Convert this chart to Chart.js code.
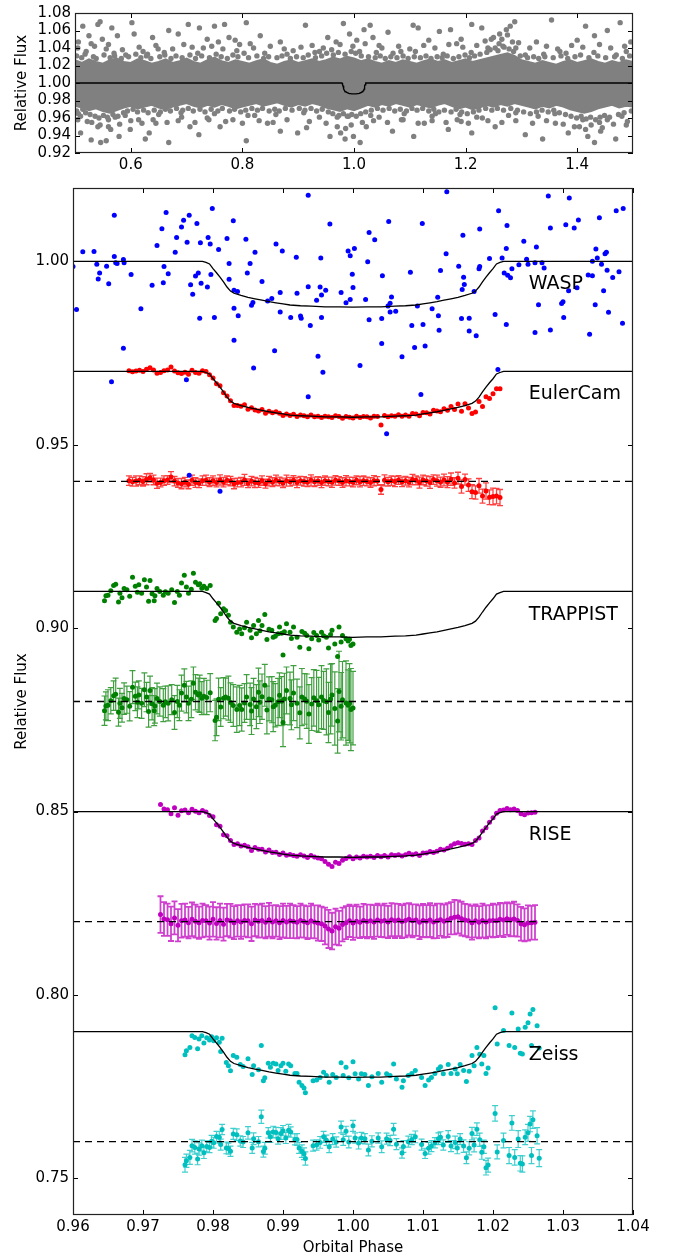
<!DOCTYPE html>
<html><head><meta charset="utf-8">
<script src="https://cdn.jsdelivr.net/npm/chart.js@4.4.0/dist/chart.umd.min.js"></script>
<style>
html,body{margin:0;padding:0;background:#fff;}
#c1{position:absolute;left:0;top:0;}
#c2{position:absolute;left:0;top:175px;}
</style></head><body>
<canvas id="c1" width="675" height="175"></canvas>
<canvas id="c2" width="675" height="1083"></canvas>
<script>
// ---------- tick values ----------
const topXTicks = [0.6, 0.8, 1.0, 1.2, 1.4];
const topYTicks = [0.92, 0.94, 0.96, 0.98, 1.00, 1.02, 1.04, 1.06, 1.08];
const botXTicks = [0.96, 0.97, 0.98, 0.99, 1.00, 1.01, 1.02, 1.03, 1.04];
const botYTicks = [0.75, 0.80, 0.85, 0.90, 0.95, 1.00];

// ---------- transit model (phase, depth) ----------
const modelPhase = [0.9600,0.9785,0.9790,0.9795,0.9800,0.9805,0.9810,0.9815,0.9820,0.9825,0.9830,0.9840,0.9850,0.9860,0.9870,0.9880,0.9890,0.9900,0.9910,0.9925,0.9940,0.9960,0.9980,1.0000,1.0020,1.0040,1.0060,1.0075,1.0090,1.0100,1.0110,1.0120,1.0130,1.0140,1.0150,1.0160,1.0170,1.0175,1.0180,1.0185,1.0190,1.0195,1.0200,1.0205,1.0210,1.0215,1.0400];
const modelDepth = [0,0,0.0003,0.0007,0.0020,0.0031,0.0043,0.0056,0.0070,0.0081,0.0087,0.0093,0.0098,0.0102,0.0106,0.0110,0.0113,0.0116,0.0119,0.0121,0.0122,0.0124,0.0124,0.0125,0.0124,0.0124,0.0122,0.0121,0.0119,0.0116,0.0113,0.0110,0.0106,0.0102,0.0098,0.0093,0.0087,0.0081,0.0070,0.0056,0.0043,0.0031,0.0020,0.0007,0.0003,0,0];

// ---------- instruments ----------
const instNames = ['WASP', 'EulerCam', 'TRAPPIST', 'RISE', 'Zeiss'];
const instBaseline = [1.00, 0.97, 0.91, 0.85, 0.79];
const instResidLevel = [null, 0.94, 0.88, 0.82, 0.76];

// ---------- top panel: full WASP phase curve ----------
const topBandPhase = [0.5000,0.5125,0.5250,0.5375,0.5500,0.5625,0.5750,0.5875,0.6000,0.6125,0.6250,0.6375,0.6500,0.6625,0.6750,0.6875,0.7000,0.7125,0.7250,0.7375,0.7500,0.7625,0.7750,0.7875,0.8000,0.8125,0.8250,0.8375,0.8500,0.8625,0.8750,0.8875,0.9000,0.9125,0.9250,0.9375,0.9500,0.9625,0.9750,0.9875,1.0000,1.0125,1.0250,1.0375,1.0500,1.0625,1.0750,1.0875,1.1000,1.1125,1.1250,1.1375,1.1500,1.1625,1.1750,1.1875,1.2000,1.2125,1.2250,1.2375,1.2500,1.2625,1.2750,1.2875,1.3000,1.3125,1.3250,1.3375,1.3500,1.3625,1.3750,1.3875,1.4000,1.4125,1.4250,1.4375,1.4500,1.4625,1.4750,1.4875,1.5000];
const topBandHigh = [1.026,1.023,1.027,1.024,1.022,1.026,1.028,1.024,1.023,1.027,
1.025,1.022,1.024,1.027,1.023,1.025,1.028,1.024,1.022,1.026,
1.029,1.025,1.023,1.026,1.024,1.022,1.025,1.027,1.023,1.021,
1.024,1.026,1.023,1.025,1.027,1.024,1.026,1.029,1.027,1.030,
1.028,1.025,1.027,1.024,1.022,1.025,1.023,1.026,1.024,1.022,
1.025,1.027,1.024,1.026,1.023,1.025,1.027,1.024,1.026,1.028,
1.030,1.032,1.034,1.031,1.026,1.024,1.022,1.025,1.023,1.021,
1.024,1.026,1.023,1.025,1.027,1.024,1.022,1.025,1.023,1.026,1.024];
const topBandLow = [0.974,0.972,0.969,0.971,0.968,0.966,0.969,0.972,0.974,0.971,
0.973,0.975,0.972,0.970,0.973,0.975,0.977,0.974,0.972,0.975,
0.973,0.976,0.974,0.971,0.973,0.975,0.977,0.974,0.976,0.978,
0.975,0.973,0.976,0.974,0.977,0.975,0.972,0.970,0.968,0.971,
0.969,0.972,0.975,0.973,0.976,0.974,0.977,0.975,0.973,0.976,
0.974,0.972,0.975,0.977,0.974,0.971,0.973,0.970,0.972,0.975,
0.973,0.976,0.974,0.977,0.975,0.973,0.971,0.974,0.972,0.975,
0.973,0.970,0.968,0.966,0.968,0.971,0.973,0.975,0.972,0.974,0.973];
const topPoints = [
[0.506,1.047],[0.514,1.065],[0.525,1.054],[0.529,1.045],[0.541,1.067],[0.545,1.070],[0.549,1.050],[0.556,1.039],[0.566,1.063],[0.576,1.054],
[0.591,1.032],[0.602,1.069],[0.606,1.056],[0.622,1.036],[0.639,1.052],[0.649,1.039],[0.668,1.060],[0.685,1.056],[0.703,1.067],[0.710,1.041],
[0.723,1.063],[0.737,1.050],[0.750,1.065],[0.757,1.047],[0.768,1.067],[0.776,1.052],[0.787,1.049],[0.807,1.069],[0.814,1.045],[0.832,1.054],
[0.868,1.047],[0.891,1.037],[0.913,1.066],[0.938,1.036],[0.953,1.052],[0.968,1.047],[0.981,1.068],[0.992,1.056],[1.005,1.049],[1.018,1.061],
[1.029,1.066],[1.034,1.052],[1.045,1.043],[1.061,1.058],[1.084,1.036],[1.106,1.066],[1.115,1.063],[1.134,1.049],[1.153,1.059],[1.173,1.061],
[1.184,1.045],[1.192,1.050],[1.211,1.067],[1.229,1.063],[1.246,1.050],[1.261,1.056],[1.273,1.061],[1.280,1.065],[1.288,1.070],[1.284,1.047],
[1.269,1.041],[1.307,1.032],[1.327,1.047],[1.354,1.072],[1.369,1.036],[1.400,1.049],[1.415,1.065],[1.431,1.054],[1.454,1.060],[1.477,1.069],
[1.488,1.036],[1.496,1.047],
[0.52,1.036],[0.57,1.034],[0.63,1.033],[0.66,1.035],[0.72,1.034],[0.79,1.037],[0.84,1.034],[0.88,1.033],[0.93,1.035],[0.96,1.038],
[1.01,1.036],[1.04,1.035],[1.07,1.034],[1.11,1.036],[1.16,1.033],[1.21,1.035],[1.24,1.040],[1.26,1.045],[1.29,1.040],[1.34,1.033],
[1.38,1.034],[1.43,1.035],[1.47,1.032],
[0.505,1.040],[0.535,1.042],[0.560,1.044],[0.585,1.038],[0.615,1.041],[0.645,1.043],[0.675,1.039],[0.695,1.044],[0.730,1.040],[0.745,1.042],
[0.765,1.039],[0.795,1.044],[0.820,1.040],[0.850,1.042],[0.875,1.039],[0.905,1.041],[0.925,1.043],[0.945,1.040],[0.975,1.044],[0.998,1.042],
[1.020,1.045],[1.050,1.040],[1.080,1.042],[1.100,1.039],[1.125,1.043],[1.145,1.040],[1.170,1.044],[1.195,1.041],[1.220,1.043],[1.235,1.048],
[1.250,1.052],[1.265,1.050],[1.275,1.055],[1.295,1.046],[1.315,1.040],[1.345,1.042],[1.365,1.039],[1.390,1.043],[1.410,1.041],[1.440,1.044],
[1.460,1.040],[1.485,1.042],
[0.503,1.031],[0.512,1.029],[0.518,1.033],[0.533,1.030],[0.538,1.028],[0.552,1.032],[0.563,1.029],[0.571,1.031],[0.583,1.028],[0.596,1.030],
[0.609,1.033],[0.618,1.029],[0.628,1.031],[0.636,1.028],[0.652,1.030],[0.661,1.032],[0.672,1.028],[0.681,1.031],[0.692,1.029],[0.706,1.032],
[0.716,1.028],[0.727,1.031],[0.741,1.029],[0.753,1.033],[0.762,1.030],[0.773,1.028],[0.783,1.032],[0.792,1.030],[0.803,1.034],[0.811,1.029],
[0.826,1.031],[0.838,1.028],[0.847,1.030],[0.862,1.029],[0.871,1.031],[0.886,1.028],[0.897,1.030],[0.909,1.029],[0.918,1.032],[0.931,1.029],
[0.942,1.031],[0.951,1.034],[0.963,1.032],[0.972,1.035],[0.984,1.033],[0.995,1.036],[1.003,1.034],[1.013,1.031],[1.026,1.030],[1.038,1.029],
[1.047,1.031],[1.056,1.028],[1.066,1.030],[1.077,1.029],[1.088,1.031],[1.097,1.028],[1.108,1.030],[1.119,1.029],[1.129,1.031],[1.138,1.028],
[1.149,1.030],[1.158,1.029],[1.167,1.031],[1.178,1.028],[1.188,1.030],[1.199,1.032],[1.207,1.029],[1.216,1.031],[1.226,1.033],[1.238,1.035],
[1.244,1.038],[1.253,1.040],[1.258,1.037],[1.267,1.042],[1.278,1.039],[1.286,1.036],[1.298,1.031],[1.311,1.029],[1.322,1.030],[1.331,1.028],
[1.342,1.030],[1.357,1.029],[1.371,1.031],[1.383,1.028],[1.396,1.030],[1.406,1.032],[1.421,1.029],[1.437,1.031],[1.451,1.029],[1.467,1.030],
[1.481,1.028],[1.494,1.031],
[0.506,0.965],[0.510,0.943],[0.522,0.956],[0.529,0.935],[0.541,0.950],[0.546,0.932],[0.556,0.934],[0.564,0.947],[0.572,0.961],[0.579,0.939],
[0.599,0.947],[0.614,0.958],[0.626,0.936],[0.633,0.943],[0.645,0.954],[0.668,0.932],[0.691,0.961],[0.706,0.950],[0.722,0.941],[0.737,0.960],
[0.760,0.950],[0.783,0.958],[0.807,0.934],[0.822,0.963],[0.845,0.954],[0.868,0.945],[0.899,0.943],[0.915,0.949],[0.938,0.961],[0.957,0.939],
[0.976,0.943],[0.984,0.936],[0.999,0.939],[1.011,0.932],[1.022,0.950],[1.045,0.961],[1.069,0.945],[1.088,0.958],[1.107,0.939],[1.126,0.954],
[1.146,0.965],[1.169,0.947],[1.192,0.956],[1.211,0.943],[1.230,0.960],[1.253,0.950],[1.277,0.963],[1.307,0.941],[1.338,0.936],[1.361,0.954],
[1.384,0.943],[1.404,0.950],[1.419,0.939],[1.431,0.932],[1.442,0.945],[1.454,0.958],[1.469,0.936],[1.488,0.952],
[0.51,0.962],[0.56,0.958],[0.59,0.963],[0.65,0.964],[0.69,0.966],[0.75,0.965],[0.81,0.963],[0.86,0.964],[0.91,0.966],[0.97,0.961],
[0.99,0.962],[1.03,0.963],[1.09,0.965],[1.14,0.962],[1.19,0.964],[1.22,0.961],[1.29,0.966],[1.33,0.962],[1.36,0.965],[1.41,0.958],
[1.44,0.955],[1.48,0.962],
[0.505,0.958],[0.530,0.955],[0.545,0.952],[0.560,0.950],[0.580,0.953],[0.600,0.957],[0.620,0.954],[0.640,0.958],[0.665,0.955],[0.685,0.957],
[0.715,0.955],[0.740,0.958],[0.770,0.956],[0.800,0.954],[0.830,0.957],[0.855,0.955],[0.880,0.958],[0.920,0.956],[0.950,0.954],[0.970,0.950],
[0.985,0.948],[0.995,0.952],[1.015,0.955],[1.035,0.957],[1.060,0.955],[1.085,0.958],[1.115,0.954],[1.140,0.957],[1.165,0.955],[1.185,0.958],
[1.205,0.954],[1.240,0.957],[1.265,0.955],[1.290,0.957],[1.320,0.954],[1.345,0.957],[1.375,0.953],[1.395,0.950],[1.415,0.947],[1.425,0.952],
[1.445,0.949],[1.465,0.953],[1.490,0.956],
[0.503,0.968],[0.514,0.970],[0.519,0.966],[0.527,0.964],[0.536,0.962],[0.543,0.960],[0.551,0.963],[0.558,0.961],[0.568,0.964],[0.577,0.962],
[0.587,0.966],[0.594,0.968],[0.604,0.970],[0.612,0.967],[0.623,0.969],[0.631,0.966],[0.642,0.969],[0.653,0.967],[0.662,0.970],[0.671,0.968],
[0.682,0.971],[0.693,0.969],[0.703,0.971],[0.712,0.968],[0.724,0.970],[0.733,0.967],[0.744,0.970],[0.756,0.968],[0.764,0.971],[0.777,0.968],
[0.786,0.970],[0.797,0.967],[0.806,0.969],[0.817,0.971],[0.827,0.969],[0.836,0.971],[0.848,0.968],[0.858,0.970],[0.866,0.968],[0.877,0.971],
[0.889,0.969],[0.902,0.971],[0.912,0.969],[0.923,0.971],[0.933,0.968],[0.943,0.970],[0.954,0.967],[0.962,0.965],[0.973,0.963],[0.981,0.965],
[0.988,0.962],[0.996,0.964],[1.004,0.962],[1.012,0.965],[1.021,0.967],[1.031,0.969],[1.042,0.971],[1.052,0.969],[1.063,0.971],[1.073,0.968],
[1.083,0.970],[1.094,0.968],[1.104,0.971],[1.113,0.969],[1.123,0.971],[1.134,0.968],[1.143,0.970],[1.152,0.967],[1.162,0.969],[1.174,0.967],
[1.183,0.970],[1.193,0.967],[1.203,0.965],[1.214,0.967],[1.224,0.969],[1.236,0.971],[1.247,0.969],[1.257,0.971],[1.268,0.969],[1.281,0.971],
[1.293,0.969],[1.304,0.967],[1.316,0.965],[1.327,0.967],[1.337,0.969],[1.348,0.967],[1.358,0.969],[1.368,0.966],[1.379,0.964],[1.389,0.962],
[1.399,0.960],[1.407,0.962],[1.416,0.959],[1.424,0.961],[1.433,0.958],[1.441,0.961],[1.449,0.963],[1.458,0.961],[1.474,0.964],[1.484,0.966],[1.497,0.968]
];

// ---------- WASP (phase, flux) ----------
const waspPoints = [
[0.9600,0.9986],[0.9605,0.9869],[0.9614,1.0026],[0.9630,1.0027],[0.9634,0.9992],[0.9638,0.9968],[0.9636,0.9952],[0.9648,0.9987],[0.9651,0.9939],[0.9659,1.0126],
[0.9659,1.0013],[0.9661,0.9996],[0.9663,0.9994],[0.9672,1.0005],[0.9673,0.9996],[0.9672,0.9763],[0.9683,0.9964],[0.9697,0.9871],[0.9713,0.9935],[0.9720,1.0043],
[0.9727,1.0089],[0.9729,0.9942],[0.9730,0.9986],[0.9733,1.0133],[0.9736,0.9966],[0.9746,1.0025],[0.9748,1.0065],[0.9755,1.0094],[0.9758,1.0112],[0.9763,1.0052],
[0.9766,1.0126],[0.9768,0.9936],[0.9771,0.9910],[0.9775,0.9960],[0.9777,1.0103],[0.9779,0.9968],[0.9781,0.9845],[0.9782,1.0051],[0.9783,0.9940],[0.9792,0.9930],
[0.9793,1.0065],[0.9796,1.0047],[0.9797,0.9964],[0.9799,1.0144],[0.9802,0.9847],[0.9808,1.0032],[0.9820,1.0062],[0.9823,0.9951],[0.9823,0.9994],[0.9829,1.0111],
[0.9830,0.9921],[0.9830,0.9872],[0.9836,0.9852],[0.9835,0.9918],[0.9830,0.9785],[0.9847,1.0060],[0.9849,0.9968],[0.9853,0.9994],[0.9855,0.9880],[0.9857,0.9888],
[0.9858,0.9709],[0.9860,1.0025],[0.9870,0.9945],[0.9878,0.9892],[0.9884,0.9899],[0.9888,0.9756],[0.9890,1.0047],[0.9896,0.9915],[0.9896,0.9862],[0.9899,1.0028],
[0.9911,0.9847],[0.9919,1.0011],[0.9920,0.9913],[0.9925,0.9851],[0.9926,0.9845],[0.9936,0.9931],[0.9936,1.0180],[0.9939,0.9825],[0.9948,0.9894],[0.9950,0.9741],
[0.9953,0.9930],[0.9954,1.0009],[0.9955,0.9908],[0.9955,0.9847],[0.9957,0.9698],[0.9961,0.9921],[0.9967,1.0102],[0.9983,0.9915],[0.9990,0.9887],[0.9993,1.0028],
[0.9996,0.9896],[0.9996,1.0015],[0.9999,0.9965],[1.0000,0.9929],[1.0002,1.0035],[1.0010,0.9716],[1.0018,0.9896],[1.0021,0.9999],[1.0023,1.0079],[1.0023,0.9841],
[1.0031,1.0059],[1.0041,0.9776],[1.0041,0.9844],[1.0042,0.9961],[1.0050,0.9878],[1.0051,1.0109],[1.0053,0.9886],[1.0053,0.9862],[1.0055,0.9903],[1.0061,0.9864],
[1.0070,0.9740],[1.0082,0.9970],[1.0084,0.9825],[1.0088,0.9765],[1.0092,0.9878],[1.0099,1.0103],[1.0100,0.9828],[1.0103,0.9769],[1.0113,0.9871],[1.0121,0.9902],
[1.0122,0.9852],[1.0123,0.9812],[1.0125,0.9975],[1.0133,1.0021],[1.0134,1.0190],[1.0151,0.9987],[1.0155,0.9844],[1.0156,0.9923],[1.0157,1.0071],[1.0158,0.9957],
[1.0159,0.9937],[1.0166,0.9845],[1.0166,0.9810],[1.0173,0.9918],[1.0176,0.9797],[1.0180,0.9980],[1.0181,1.0088],[1.0181,0.9986],[1.0195,1.0008],[1.0203,0.9855],
[1.0208,1.0138],[1.0207,0.9705],[1.0213,1.0009],[1.0216,0.9968],[1.0219,1.0035],[1.0220,1.0098],[1.0219,0.9828],[1.0221,0.9962],[1.0225,0.9955],[1.0227,0.9980],
[1.0237,0.9991],[1.0244,1.0055],[1.0248,1.0006],[1.0250,0.9992],[1.0260,0.9806],[1.0260,0.9996],[1.0262,1.0039],[1.0265,0.9882],[1.0270,0.9996],[1.0273,0.9982],
[1.0279,1.0178],[1.0282,0.9813],[1.0282,1.0091],[1.0298,0.9885],[1.0300,0.9890],[1.0301,0.9847],[1.0304,1.0100],[1.0309,1.0173],[1.0308,0.9920],[1.0316,1.0091],
[1.0320,0.9928],[1.0322,1.0113],[1.0336,0.9963],[1.0338,0.9801],[1.0342,0.9961],[1.0342,1.0000],[1.0346,0.9882],[1.0347,1.0034],[1.0349,1.0009],[1.0352,1.0119],
[1.0355,0.9992],[1.0358,0.9920],[1.0360,1.0021],[1.0362,1.0025],[1.0363,0.9976],[1.0365,0.9861],[1.0371,0.9956],[1.0376,1.0138],[1.0380,0.9972],[1.0385,0.9831],
[1.0386,1.0144],[0.9655,0.9672],[0.9762,0.9677],[0.9936,0.9631],[0.9766,0.9417],[0.9810,0.9373],[1.0097,0.9637],[1.0048,0.9530]
];

// ---------- EulerCam rows: phase, flux, residual, error ----------
const eulerRows = [
[0.9680,0.9702,0.9402,0.0013],[0.9685,0.9699,0.9399,0.0012],[0.9690,0.9701,0.9401,0.0014],[0.9695,0.9703,0.9403,0.0012],[0.9700,0.9700,0.9400,0.0013],
[0.9705,0.9706,0.9406,0.0015],[0.9710,0.9710,0.9410,0.0012],[0.9715,0.9704,0.9404,0.0013],[0.9720,0.9695,0.9395,0.0014],[0.9725,0.9697,0.9397,0.0012],
[0.9730,0.9702,0.9402,0.0013],[0.9735,0.9704,0.9404,0.0012],[0.9740,0.9712,0.9412,0.0015],[0.9745,0.9701,0.9401,0.0013],[0.9750,0.9696,0.9396,0.0012],
[0.9755,0.9694,0.9394,0.0014],[0.9760,0.9698,0.9398,0.0013],[0.9765,0.9692,0.9392,0.0012],[0.9770,0.9703,0.9403,0.0014],[0.9775,0.9697,0.9397,0.0013],
[0.9780,0.9695,0.9395,0.0012],[0.9785,0.9702,0.9402,0.0013],[0.9790,0.9700,0.9403,0.0014],[0.9795,0.9691,0.9398,0.0012],[0.9800,0.9682,0.9402,0.0013],
[0.9805,0.9666,0.9397,0.0012],[0.9810,0.9661,0.9404,0.0014],[0.9815,0.9642,0.9398,0.0013],[0.9820,0.9633,0.9403,0.0012],[0.9825,0.9620,0.9401,0.0013],
[0.9830,0.9607,0.9394,0.0014],[0.9835,0.9607,0.9397,0.0012],[0.9840,0.9605,0.9398,0.0013],[0.9845,0.9609,0.9404,0.0015],[0.9850,0.9597,0.9395,0.0012],
[0.9855,0.9601,0.9401,0.0013],[0.9860,0.9595,0.9397,0.0014],[0.9865,0.9592,0.9396,0.0012],[0.9870,0.9596,0.9402,0.0013],[0.9875,0.9586,0.9394,0.0012],
[0.9880,0.9591,0.9401,0.0013],[0.9885,0.9587,0.9398,0.0012],[0.9890,0.9590,0.9403,0.0014],[0.9895,0.9586,0.9400,0.0012],[0.9900,0.9580,0.9396,0.0013],
[0.9905,0.9584,0.9402,0.0015],[0.9910,0.9580,0.9399,0.0012],[0.9915,0.9583,0.9403,0.0013],[0.9920,0.9577,0.9397,0.0014],[0.9925,0.9581,0.9402,0.0012],
[0.9930,0.9579,0.9400,0.0013],[0.9935,0.9576,0.9398,0.0012],[0.9940,0.9581,0.9403,0.0015],[0.9945,0.9576,0.9399,0.0013],[0.9950,0.9578,0.9401,0.0012],
[0.9955,0.9574,0.9397,0.0014],[0.9960,0.9578,0.9402,0.0013],[0.9965,0.9576,0.9400,0.0012],[0.9970,0.9574,0.9398,0.0014],[0.9975,0.9579,0.9403,0.0013],
[0.9980,0.9577,0.9401,0.0012],[0.9985,0.9572,0.9397,0.0013],[0.9990,0.9577,0.9402,0.0014],[0.9995,0.9575,0.9400,0.0012],[1.0000,0.9573,0.9398,0.0013],
[1.0005,0.9578,0.9403,0.0012],[1.0010,0.9574,0.9399,0.0014],[1.0015,0.9577,0.9402,0.0013],[1.0020,0.9576,0.9400,0.0012],[1.0025,0.9573,0.9397,0.0013],
[1.0030,0.9578,0.9402,0.0014],[1.0035,0.9577,0.9401,0.0012],[1.0040,0.9554,0.9378,0.0013],[1.0045,0.9580,0.9403,0.0015],[1.0050,0.9576,0.9399,0.0012],
[1.0055,0.9579,0.9402,0.0013],[1.0060,0.9578,0.9400,0.0014],[1.0065,0.9582,0.9404,0.0012],[1.0070,0.9578,0.9399,0.0013],[1.0075,0.9581,0.9402,0.0012],
[1.0080,0.9578,0.9398,0.0013],[1.0085,0.9585,0.9405,0.0014],[1.0090,0.9584,0.9403,0.0012],[1.0095,0.9579,0.9397,0.0015],[1.0100,0.9588,0.9404,0.0013],
[1.0105,0.9587,0.9401,0.0014],[1.0110,0.9584,0.9397,0.0016],[1.0115,0.9594,0.9405,0.0013],[1.0120,0.9592,0.9402,0.0015],[1.0125,0.9590,0.9398,0.0014],
[1.0130,0.9598,0.9404,0.0016],[1.0135,0.9594,0.9398,0.0015],[1.0140,0.9604,0.9406,0.0017],[1.0145,0.9596,0.9396,0.0014],[1.0150,0.9611,0.9409,0.0016],
[1.0155,0.9591,0.9386,0.0018],[1.0160,0.9612,0.9405,0.0015],[1.0165,0.9600,0.9390,0.0017],[1.0170,0.9585,0.9372,0.0019],[1.0175,0.9589,0.9370,0.0018],
[1.0180,0.9618,0.9388,0.0020],[1.0185,0.9604,0.9360,0.0019],[1.0190,0.9631,0.9374,0.0022],[1.0195,0.9626,0.9357,0.0020],[1.0200,0.9639,0.9359,0.0023],
[1.0205,0.9653,0.9360,0.0021],[1.0210,0.9653,0.9356,0.0022]
];

// ---------- TRAPPIST rows: phase, flux, residual, error ----------
const trappistRows = [
[0.9645,0.9075,0.8775,0.0040],[0.9647,0.9088,0.8788,0.0038],[0.9650,0.9090,0.8790,0.0042],[0.9654,0.9102,0.8802,0.0036],[0.9658,0.9116,0.8816,0.0040],
[0.9661,0.9120,0.8820,0.0044],[0.9665,0.9071,0.8771,0.0038],[0.9667,0.9095,0.8795,0.0041],[0.9670,0.9083,0.8783,0.0039],[0.9673,0.9108,0.8808,0.0043],
[0.9677,0.9105,0.8805,0.0037],[0.9681,0.9087,0.8787,0.0040],[0.9685,0.9139,0.8839,0.0045],[0.9689,0.9114,0.8814,0.0039],[0.9692,0.9098,0.8798,0.0042],
[0.9694,0.9118,0.8818,0.0038],[0.9698,0.9095,0.8795,0.0041],[0.9702,0.9132,0.8832,0.0046],[0.9705,0.9112,0.8812,0.0040],[0.9708,0.9073,0.8773,0.0043],
[0.9710,0.9130,0.8830,0.0039],[0.9713,0.9094,0.8794,0.0044],[0.9716,0.9075,0.8775,0.0041],[0.9717,0.9088,0.8788,0.0047],[0.9720,0.9108,0.8808,0.0042],
[0.9724,0.9100,0.8800,0.0040],[0.9729,0.9090,0.8790,0.0045],[0.9732,0.9099,0.8799,0.0043],[0.9736,0.9095,0.8795,0.0048],[0.9741,0.9105,0.8805,0.0041],
[0.9745,0.9070,0.8770,0.0046],[0.9749,0.9100,0.8800,0.0044],[0.9752,0.9090,0.8790,0.0042],[0.9755,0.9123,0.8823,0.0049],[0.9759,0.9144,0.8844,0.0045],
[0.9762,0.9112,0.8812,0.0043],[0.9765,0.9095,0.8795,0.0047],[0.9769,0.9106,0.8806,0.0050],[0.9772,0.9150,0.8850,0.0044],[0.9775,0.9125,0.8825,0.0048],
[0.9779,0.9118,0.8818,0.0046],[0.9781,0.9121,0.8821,0.0051],[0.9784,0.9109,0.8809,0.0045],[0.9787,0.9114,0.8814,0.0049],[0.9791,0.9108,0.8811,0.0047],
[0.9796,0.9116,0.8824,0.0052],[0.9803,0.9021,0.8748,0.0055],[0.9805,0.9026,0.8757,0.0050],[0.9808,0.9068,0.8806,0.0058],[0.9811,0.9039,0.8785,0.0053],
[0.9815,0.9053,0.8809,0.0056],[0.9818,0.9048,0.8812,0.0052],[0.9822,0.9035,0.8809,0.0060],[0.9825,0.9016,0.8797,0.0054],[0.9829,0.9003,0.8789,0.0057],
[0.9834,0.8989,0.8778,0.0062],[0.9838,0.8998,0.8789,0.0055],[0.9841,0.8985,0.8778,0.0059],[0.9845,0.9001,0.8796,0.0053],[0.9848,0.9016,0.8812,0.0061],
[0.9853,0.8994,0.8792,0.0058],[0.9855,0.8974,0.8774,0.0064],[0.9858,0.9007,0.8807,0.0056],[0.9862,0.8985,0.8786,0.0060],[0.9865,0.9021,0.8825,0.0066],
[0.9867,0.8993,0.8798,0.0058],[0.9870,0.9007,0.8813,0.0062],[0.9874,0.9037,0.8844,0.0057],[0.9877,0.8969,0.8777,0.0065],[0.9880,0.8997,0.8807,0.0060],
[0.9884,0.8994,0.8805,0.0063],[0.9886,0.8975,0.8786,0.0068],[0.9889,0.8978,0.8790,0.0059],[0.9893,0.8985,0.8799,0.0064],[0.9895,0.9003,0.8817,0.0061],
[0.9898,0.8986,0.8801,0.0067],[0.9900,0.8927,0.8743,0.0066],[0.9902,0.8990,0.8807,0.0070],[0.9905,0.9012,0.8830,0.0064],[0.9910,0.8989,0.8808,0.0072],
[0.9912,0.8972,0.8791,0.0068],[0.9915,0.9003,0.8823,0.0075],[0.9920,0.8975,0.8795,0.0066],[0.9924,0.8948,0.8769,0.0071],[0.9927,0.8991,0.8812,0.0078],
[0.9931,0.8986,0.8807,0.0069],[0.9934,0.8980,0.8801,0.0074],[0.9937,0.8944,0.8766,0.0080],[0.9941,0.8971,0.8793,0.0072],[0.9944,0.8988,0.8810,0.0077],
[0.9948,0.8980,0.8802,0.0083],[0.9951,0.8968,0.8791,0.0075],[0.9955,0.8989,0.8812,0.0086],[0.9958,0.8979,0.8803,0.0079],[0.9962,0.8975,0.8799,0.0090],
[0.9965,0.8946,0.8770,0.0082],[0.9968,0.8983,0.8807,0.0095],[0.9970,0.8994,0.8818,0.0085],[0.9974,0.8957,0.8781,0.0100],[0.9978,0.8923,0.8747,0.0088],
[0.9980,0.9003,0.8827,0.0110],[0.9983,0.8962,0.8787,0.0092],[0.9985,0.8980,0.8805,0.0104],[0.9990,0.8971,0.8796,0.0115],[0.9993,0.8965,0.8790,0.0096],
[0.9995,0.8970,0.8795,0.0108],[0.9997,0.8953,0.8778,0.0112],[1.0000,0.8957,0.8782,0.0100]
];

// ---------- RISE rows: phase, flux, residual, error ----------
const riseRows = [
[0.9725,0.8519,0.8219,0.0050],[0.9730,0.8507,0.8207,0.0046],[0.9735,0.8505,0.8205,0.0044],[0.9740,0.8494,0.8194,0.0047],[0.9745,0.8510,0.8210,0.0045],
[0.9750,0.8490,0.8190,0.0044],[0.9755,0.8502,0.8202,0.0046],[0.9760,0.8504,0.8204,0.0045],[0.9765,0.8497,0.8197,0.0043],[0.9770,0.8506,0.8206,0.0046],
[0.9775,0.8501,0.8201,0.0045],[0.9780,0.8497,0.8197,0.0044],[0.9785,0.8503,0.8203,0.0046],[0.9790,0.8499,0.8202,0.0043],[0.9795,0.8489,0.8196,0.0045],
[0.9800,0.8486,0.8206,0.0047],[0.9805,0.8464,0.8195,0.0044],[0.9810,0.8460,0.8203,0.0046],[0.9815,0.8437,0.8193,0.0045],[0.9820,0.8434,0.8204,0.0044],
[0.9825,0.8421,0.8202,0.0046],[0.9830,0.8410,0.8197,0.0045],[0.9835,0.8412,0.8202,0.0043],[0.9840,0.8406,0.8199,0.0046],[0.9845,0.8408,0.8203,0.0044],
[0.9850,0.8404,0.8202,0.0045],[0.9855,0.8394,0.8194,0.0047],[0.9860,0.8402,0.8204,0.0044],[0.9865,0.8397,0.8201,0.0045],[0.9870,0.8397,0.8203,0.0046],
[0.9875,0.8390,0.8198,0.0044],[0.9880,0.8395,0.8205,0.0046],[0.9885,0.8388,0.8199,0.0045],[0.9890,0.8389,0.8202,0.0043],[0.9895,0.8383,0.8197,0.0045],
[0.9900,0.8387,0.8203,0.0046],[0.9905,0.8381,0.8199,0.0044],[0.9910,0.8383,0.8202,0.0047],[0.9915,0.8380,0.8200,0.0045],[0.9920,0.8378,0.8198,0.0044],
[0.9925,0.8382,0.8203,0.0046],[0.9930,0.8379,0.8200,0.0044],[0.9935,0.8375,0.8197,0.0045],[0.9940,0.8380,0.8202,0.0047],[0.9945,0.8376,0.8199,0.0045],
[0.9950,0.8373,0.8196,0.0048],[0.9955,0.8371,0.8194,0.0047],[0.9960,0.8364,0.8188,0.0050],[0.9965,0.8356,0.8180,0.0052],[0.9970,0.8350,0.8174,0.0050],
[0.9975,0.8362,0.8186,0.0049],[0.9980,0.8358,0.8182,0.0047],[0.9985,0.8367,0.8192,0.0046],[0.9990,0.8372,0.8197,0.0045],[0.9995,0.8377,0.8202,0.0044],
[1.0000,0.8371,0.8196,0.0046],[1.0005,0.8376,0.8201,0.0045],[1.0010,0.8373,0.8198,0.0043],[1.0015,0.8378,0.8203,0.0045],[1.0020,0.8376,0.8200,0.0046],
[1.0025,0.8378,0.8202,0.0044],[1.0030,0.8375,0.8199,0.0046],[1.0035,0.8380,0.8204,0.0045],[1.0040,0.8377,0.8201,0.0043],[1.0045,0.8380,0.8203,0.0046],
[1.0050,0.8376,0.8199,0.0044],[1.0055,0.8382,0.8205,0.0045],[1.0060,0.8380,0.8202,0.0047],[1.0065,0.8382,0.8204,0.0044],[1.0070,0.8379,0.8200,0.0045],
[1.0075,0.8382,0.8203,0.0046],[1.0080,0.8386,0.8206,0.0044],[1.0085,0.8382,0.8202,0.0045],[1.0090,0.8385,0.8204,0.0043],[1.0095,0.8380,0.8198,0.0046],
[1.0100,0.8387,0.8203,0.0045],[1.0105,0.8387,0.8201,0.0044],[1.0110,0.8391,0.8204,0.0046],[1.0115,0.8388,0.8199,0.0045],[1.0120,0.8392,0.8202,0.0047],
[1.0125,0.8397,0.8205,0.0044],[1.0130,0.8395,0.8201,0.0045],[1.0135,0.8400,0.8204,0.0046],[1.0140,0.8407,0.8209,0.0044],[1.0145,0.8412,0.8212,0.0047],
[1.0150,0.8415,0.8213,0.0045],[1.0155,0.8413,0.8208,0.0046],[1.0160,0.8411,0.8204,0.0044],[1.0165,0.8412,0.8202,0.0045],[1.0170,0.8410,0.8197,0.0046],
[1.0175,0.8421,0.8202,0.0045],[1.0180,0.8428,0.8198,0.0044],[1.0185,0.8447,0.8203,0.0046],[1.0190,0.8456,0.8199,0.0045],[1.0195,0.8471,0.8202,0.0043],
[1.0200,0.8483,0.8203,0.0046],[1.0205,0.8495,0.8202,0.0044],[1.0210,0.8503,0.8206,0.0045],[1.0215,0.8504,0.8204,0.0046],[1.0220,0.8508,0.8208,0.0044],
[1.0225,0.8505,0.8205,0.0045],[1.0230,0.8507,0.8207,0.0047],[1.0235,0.8503,0.8203,0.0044],[1.0240,0.8494,0.8194,0.0046],[1.0245,0.8491,0.8191,0.0045],
[1.0250,0.8496,0.8196,0.0048],[1.0255,0.8497,0.8197,0.0046],[1.0260,0.8498,0.8198,0.0047]
];

// ---------- Zeiss rows: phase, flux, residual, error ----------
const zeissRows = [
[0.9760,0.7837,0.7537,0.0020],[0.9762,0.7848,0.7548,0.0018],[0.9767,0.7857,0.7557,0.0019],[0.9770,0.7889,0.7589,0.0017],[0.9774,0.7884,0.7584,0.0018],
[0.9778,0.7853,0.7553,0.0016],[0.9780,0.7880,0.7580,0.0017],[0.9784,0.7889,0.7589,0.0015],[0.9787,0.7869,0.7570,0.0016],[0.9791,0.7883,0.7587,0.0015],
[0.9795,0.7877,0.7584,0.0014],[0.9798,0.7886,0.7601,0.0016],[0.9801,0.7875,0.7597,0.0015],[0.9805,0.7883,0.7614,0.0014],[0.9809,0.7871,0.7612,0.0016],
[0.9811,0.7846,0.7592,0.0015],[0.9813,0.7882,0.7633,0.0014],[0.9819,0.7816,0.7583,0.0016],[0.9822,0.7807,0.7581,0.0015],[0.9825,0.7793,0.7574,0.0014],
[0.9829,0.7835,0.7621,0.0015],[0.9834,0.7830,0.7619,0.0016],[0.9839,0.7810,0.7602,0.0014],[0.9843,0.7805,0.7599,0.0015],[0.9850,0.7826,0.7624,0.0017],
[0.9856,0.7783,0.7583,0.0015],[0.9858,0.7807,0.7608,0.0016],[0.9865,0.7796,0.7600,0.0014],[0.9869,0.7862,0.7668,0.0018],[0.9872,0.7766,0.7573,0.0015],
[0.9874,0.7774,0.7582,0.0016],[0.9879,0.7814,0.7624,0.0014],[0.9882,0.7803,0.7613,0.0015],[0.9886,0.7814,0.7626,0.0016],[0.9890,0.7812,0.7625,0.0014],
[0.9893,0.7794,0.7608,0.0015],[0.9897,0.7807,0.7622,0.0016],[0.9900,0.7814,0.7630,0.0014],[0.9904,0.7792,0.7610,0.0015],[0.9908,0.7812,0.7631,0.0016],
[0.9911,0.7807,0.7626,0.0014],[0.9917,0.7786,0.7606,0.0015],[0.9920,0.7786,0.7606,0.0016],[0.9923,0.7762,0.7583,0.0015],[0.9927,0.7753,0.7574,0.0017],
[0.9930,0.7746,0.7567,0.0016],[0.9932,0.7733,0.7554,0.0018],[0.9943,0.7766,0.7589,0.0015],[0.9948,0.7768,0.7591,0.0014],[0.9953,0.7775,0.7598,0.0016],
[0.9958,0.7789,0.7613,0.0015],[0.9962,0.7780,0.7604,0.0014],[0.9966,0.7762,0.7586,0.0016],[0.9971,0.7783,0.7607,0.0015],[0.9976,0.7775,0.7599,0.0014],
[0.9983,0.7815,0.7640,0.0016],[0.9986,0.7780,0.7605,0.0015],[0.9990,0.7803,0.7628,0.0014],[0.9994,0.7774,0.7599,0.0016],[1.0000,0.7818,0.7643,0.0015],
[1.0003,0.7785,0.7610,0.0014],[1.0008,0.7771,0.7596,0.0016],[1.0012,0.7785,0.7610,0.0015],[1.0017,0.7783,0.7608,0.0014],[1.0022,0.7753,0.7577,0.0016],
[1.0027,0.7777,0.7601,0.0015],[1.0036,0.7786,0.7610,0.0014],[1.0041,0.7762,0.7586,0.0016],[1.0048,0.7785,0.7608,0.0015],[1.0053,0.7780,0.7603,0.0014],
[1.0058,0.7812,0.7634,0.0016],[1.0062,0.7771,0.7593,0.0015],[1.0070,0.7748,0.7569,0.0014],[1.0072,0.7766,0.7587,0.0016],[1.0079,0.7780,0.7600,0.0015],
[1.0084,0.7786,0.7606,0.0014],[1.0089,0.7794,0.7613,0.0016],[1.0098,0.7775,0.7592,0.0015],[1.0103,0.7753,0.7568,0.0014],[1.0108,0.7768,0.7582,0.0016],
[1.0112,0.7775,0.7588,0.0015],[1.0117,0.7786,0.7597,0.0014],[1.0122,0.7798,0.7608,0.0016],[1.0125,0.7804,0.7612,0.0015],[1.0129,0.7785,0.7591,0.0014],
[1.0136,0.7810,0.7614,0.0016],[1.0140,0.7786,0.7588,0.0015],[1.0146,0.7798,0.7598,0.0017],[1.0149,0.7785,0.7583,0.0016],[1.0153,0.7810,0.7607,0.0015],
[1.0158,0.7794,0.7588,0.0017],[1.0162,0.7764,0.7556,0.0016],[1.0166,0.7792,0.7582,0.0018],[1.0170,0.7835,0.7622,0.0017],[1.0173,0.7807,0.7591,0.0019],
[1.0177,0.7857,0.7634,0.0017],[1.0181,0.7838,0.7605,0.0018],[1.0184,0.7812,0.7571,0.0019],[1.0187,0.7835,0.7586,0.0018],[1.0190,0.7786,0.7529,0.0020],
[1.0193,0.7801,0.7536,0.0019],[1.0203,0.7965,0.7677,0.0021],[1.0206,0.7866,0.7572,0.0019],[1.0215,0.7903,0.7603,0.0020],[1.0223,0.7862,0.7562,0.0022],
[1.0227,0.7951,0.7651,0.0020],[1.0231,0.7857,0.7557,0.0021],[1.0236,0.7907,0.7607,0.0023],[1.0239,0.7841,0.7541,0.0021],[1.0242,0.7839,0.7539,0.0022],
[1.0246,0.7912,0.7612,0.0020],[1.0250,0.7924,0.7624,0.0023],[1.0253,0.7948,0.7648,0.0021],[1.0255,0.7862,0.7562,0.0022],[1.0257,0.7960,0.7660,0.0024],
[1.0263,0.7916,0.7616,0.0022],[1.0266,0.7855,0.7555,0.0023]
];

// ================= rendering =================
Chart.defaults.font.family = '"DejaVu Sans", sans-serif';
Chart.defaults.font.size = 15;
Chart.defaults.color = '#000';

const FONT = '"DejaVu Sans", sans-serif';

const framePlugin = {
  id: 'frameTicks',
  afterDatasetsDraw(chart) {
    const {ctx, chartArea: a, scales: {x, y}} = chart;
    const L = 5;
    ctx.save();
    ctx.strokeStyle = '#000';
    ctx.lineWidth = 1;
    ctx.beginPath();
    x.ticks.forEach(t => {
      const px = Math.round(x.getPixelForValue(t.value)) + 0.5;
      ctx.moveTo(px, a.bottom); ctx.lineTo(px, a.bottom - L);
      ctx.moveTo(px, a.top); ctx.lineTo(px, a.top + L);
    });
    y.ticks.forEach(t => {
      const py = Math.round(y.getPixelForValue(t.value)) + 0.5;
      ctx.moveTo(a.left, py); ctx.lineTo(a.left + L, py);
      ctx.moveTo(a.right, py); ctx.lineTo(a.right - L, py);
    });
    ctx.stroke();
    ctx.lineWidth = 1.2;
    ctx.strokeStyle = '#222';
    ctx.strokeRect(a.left + 0.5, a.top + 0.5, a.right - a.left - 1, a.bottom - a.top - 1);
    ctx.restore();
  }
};

const errorBarPlugin = {
  id: 'errorBars',
  beforeDatasetsDraw(chart) {
    const {ctx, chartArea: a, scales: {y}} = chart;
    ctx.save();
    ctx.beginPath();
    ctx.rect(a.left, a.top, a.right - a.left, a.bottom - a.top);
    ctx.clip();
    chart.data.datasets.forEach((ds, i) => {
      if (!ds.errors) return;
      const meta = chart.getDatasetMeta(i);
      ctx.strokeStyle = ds.errorColor;
      ctx.lineWidth = ds.errorWidth || 1;
      ctx.beginPath();
      meta.data.forEach((pt, j) => {
        const v = ds.data[j].y, e = ds.errors[j];
        const y1 = y.getPixelForValue(v + e), y2 = y.getPixelForValue(v - e);
        const px = pt.x;
        ctx.moveTo(px, y1); ctx.lineTo(px, y2);
        ctx.moveTo(px - 3, y1); ctx.lineTo(px + 3, y1);
        ctx.moveTo(px - 3, y2); ctx.lineTo(px + 3, y2);
      });
      ctx.stroke();
    });
    ctx.restore();
  }
};

const labelPlugin = {
  id: 'instLabels',
  afterDatasetsDraw(chart, args, opts) {
    const {ctx, scales: {x, y}} = chart;
    ctx.save();
    ctx.fillStyle = '#000';
    ctx.font = '19px ' + FONT;
    ctx.textAlign = 'left';
    ctx.textBaseline = 'middle';
    instNames.forEach((n, i) => {
      ctx.fillText(n, x.getPixelForValue(opts.x), y.getPixelForValue(instBaseline[i] + opts.dy));
    });
    ctx.restore();
  }
};

function axis(opts) {
  return {
    type: 'linear',
    min: opts.min, max: opts.max,
    afterBuildTicks: s => { s.ticks = opts.ticks.map(v => ({value: v})); },
    afterFit: s => { if (opts.width) s.width = opts.width; if (opts.height) s.height = opts.height; },
    grid: {display: false, drawTicks: false},
    border: {display: false},
    ticks: {padding: opts.pad, autoSkip: false, maxRotation: 0, minRotation: 0,
            callback: v => Number(v).toFixed(opts.dec), color: '#000', font: {size: 15, family: FONT}},
    title: opts.title ? {display: true, text: opts.title, color: '#000', font: {size: 15, family: FONT},
            padding: opts.titlePad} : {display: false}
  };
}

function scatterDS(points, color, radius, order, extra) {
  return Object.assign({
    type: 'line', data: points, showLine: false,
    pointRadius: radius, pointHoverRadius: radius, pointBorderWidth: 0,
    pointBackgroundColor: color, backgroundColor: color, borderColor: color,
    clip: 0, order: order
  }, extra || {});
}
function lineDS(points, color, width, order, dash) {
  return {
    type: 'line', data: points, showLine: true, fill: false,
    borderColor: color, borderWidth: width, borderDash: dash || [],
    pointRadius: 0, pointHoverRadius: 0, tension: 0, clip: 0, order: order
  };
}
function modelPoints(base) {
  return modelPhase.map((p, i) => ({x: p, y: base - modelDepth[i]}));
}

// ---------- top chart ----------
const topModel = [{x: 0.5, y: 1.0}].concat(modelPoints(1.0), [{x: 1.5, y: 1.0}]);
const grey = '#808080';
new Chart(document.getElementById('c1'), {
  type: 'line',
  data: {datasets: [
    lineDS(topModel, '#000', 1.3, 0),
    scatterDS(topPoints.map(p => ({x: p[0], y: p[1]})), grey, 2.7, 1),
    {type: 'line', data: topBandPhase.map((p, i) => ({x: p, y: topBandHigh[i]})), showLine: true,
     borderColor: grey, borderWidth: 2, pointRadius: 0, tension: 0, fill: '+1', backgroundColor: grey, clip: 0, order: 2},
    {type: 'line', data: topBandPhase.map((p, i) => ({x: p, y: topBandLow[i]})), showLine: true,
     borderColor: grey, borderWidth: 2, pointRadius: 0, tension: 0, fill: false, clip: 0, order: 3}
  ]},
  options: {
    responsive: false, animation: false, events: [],
    layout: {autoPadding: false, padding: {top: 10, right: 42, left: 0, bottom: 0}},
    plugins: {legend: {display: false}, tooltip: {enabled: false}},
    scales: {
      x: axis({min: 0.5, max: 1.5, ticks: topXTicks, dec: 1, height: 22, pad: 3}),
      y: axis({min: 0.92, max: 1.08, ticks: topYTicks, dec: 2, width: 75, pad: 4,
               title: 'Relative Flux', titlePad: {top: 13, bottom: 0}})
    }
  },
  plugins: [framePlugin]
});

// ---------- bottom chart ----------
const colors = ['#0000ff', '#ff0000', '#008000', '#bf00bf', '#00bfbf'];
const errColors = ['', 'rgba(255,0,0,0.75)', 'rgba(0,128,0,0.75)', 'rgba(191,0,191,0.75)', 'rgba(0,191,191,0.75)'];
const errWidths = [0, 1.3, 1.2, 1.8, 1.2];
const instRows = [null, eulerRows, trappistRows, riseRows, zeissRows];

const ds = [];
instBaseline.forEach((b, i) => ds.push(lineDS(modelPoints(b), '#000', 1.3, 0)));
instResidLevel.forEach(l => { if (l !== null) ds.push(lineDS([{x: 0.96, y: l}, {x: 1.04, y: l}], '#000', 1.3, 0, [7, 5])); });
ds.push(scatterDS(waspPoints.map(p => ({x: p[0], y: p[1]})), colors[0], 2.5, 1));
for (let i = 1; i < 5; i++) {
  const rows = instRows[i];
  ds.push(scatterDS(rows.map(r => ({x: r[0], y: r[1]})), colors[i], 2.5, 2));
  ds.push(scatterDS(rows.map(r => ({x: r[0], y: r[2]})), colors[i], 2.5, 3,
          {errors: rows.map(r => r[3]), errorColor: errColors[i], errorWidth: errWidths[i]}));
}

new Chart(document.getElementById('c2'), {
  type: 'line',
  data: {datasets: ds},
  options: {
    responsive: false, animation: false, events: [],
    layout: {autoPadding: false, padding: {top: 13, right: 42, left: 0, bottom: 0}},
    plugins: {legend: {display: false}, tooltip: {enabled: false},
              instLabels: {x: 1.0251, dy: -0.0063}},
    scales: {
      x: axis({min: 0.96, max: 1.04, ticks: botXTicks, dec: 2, height: 43, pad: 3,
               title: 'Orbital Phase', titlePad: {top: 0, bottom: 1}}),
      y: axis({min: 0.74, max: 1.02, ticks: botYTicks, dec: 2, width: 73, pad: 4,
               title: 'Relative Flux', titlePad: {top: 13, bottom: 0}})
    }
  },
  plugins: [errorBarPlugin, labelPlugin, framePlugin]
});
</script>
</body></html>
